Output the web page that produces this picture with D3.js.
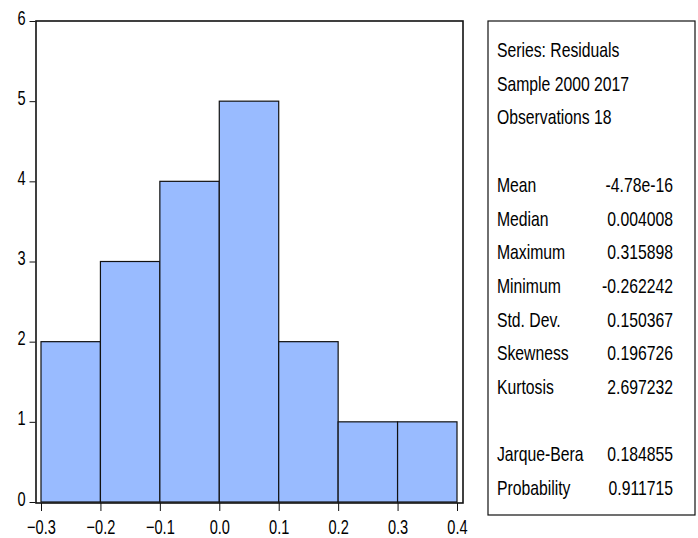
<!DOCTYPE html>
<html>
<head>
<meta charset="utf-8">
<script src="https://cdn.jsdelivr.net/npm/d3@7"></script>
<style>
  body { margin: 0; background: #fff; }
  text { font-family: "Liberation Sans", Arial, sans-serif; fill: #000; }
</style>
</head>
<body>
<svg id="chart" width="698" height="538"></svg>
<script>
// histogram bins (lower edge) and counts
var binStarts = [-0.3, -0.2, -0.1, 0.0, 0.1, 0.2, 0.3];
var binWidth = 0.1;
var counts = [2, 3, 4, 5, 2, 1, 1];
var xTicks = [-0.3, -0.2, -0.1, 0.0, 0.1, 0.2, 0.3, 0.4];
var yTicks = [0, 1, 2, 3, 4, 5, 6];

// stats box text
var headerLines = ["Series: Residuals", "Sample 2000 2017", "Observations 18"];
var statNames = ["Mean", "Median", "Maximum", "Minimum", "Std. Dev.", "Skewness", "Kurtosis"];
var statValues = ["-4.78e-16", "0.004008", "0.315898", "-0.262242", "0.150367", "0.196726", "2.697232"];
var testNames = ["Jarque-Bera", "Probability"];
var testValues = ["0.184855", "0.911715"];

var svg = d3.select("#chart");

// the original uses a condensed face, so squeeze text horizontally
var squeeze = 0.73;

var x = d3.scaleLinear().domain([-0.3, 0.4]).range([41, 457]);
var y = d3.scaleLinear().domain([0, 6]).range([502, 21]);

var frameL = 36, frameR = 463, frameT = 21, frameB = 503;

// bars
svg.selectAll("rect.bar")
    .data(counts)
    .enter()
    .append("rect")
    .attr("class", "bar")
    .attr("x", function(d, i) { return x(binStarts[i]); })
    .attr("width", function(d, i) { return x(binStarts[i] + binWidth) - x(binStarts[i]); })
    .attr("y", function(d) { return y(d); })
    .attr("height", function(d) { return y(0) - y(d); })
    .attr("fill", "#99bbff")
    .attr("stroke", "#111")
    .attr("stroke-width", 1.2);

// frame
svg.append("rect")
    .attr("x", frameL).attr("y", frameT)
    .attr("width", frameR - frameL).attr("height", frameB - frameT)
    .attr("fill", "none")
    .attr("stroke", "#111")
    .attr("stroke-width", 1.6);

// y axis
var yAxis = d3.axisLeft(y).tickValues(yTicks).tickSize(6).tickFormat(d3.format("d"));
var gy = svg.append("g").attr("transform", "translate(" + (frameL - 0.5) + ",0)").call(yAxis);
gy.select(".domain").remove();
gy.selectAll("line").attr("stroke", "#111");
gy.selectAll("text")
    .attr("x", 0)
    .attr("dy", "0.15em")
    .attr("transform", "translate(-10,0) scale(" + squeeze + ",1)")
    .style("font-size", "20px");

// x axis
var xAxis = d3.axisBottom(x).tickValues(xTicks).tickSize(8).tickPadding(9).tickFormat(d3.format(".1f"));
var gx = svg.append("g").attr("transform", "translate(0," + frameB + ")").call(xAxis);
gx.select(".domain").remove();
gx.selectAll("line").attr("stroke", "#111");
gx.selectAll("text")
    .attr("transform", "scale(" + squeeze + ",1)")
    .style("font-size", "20px");

// stats box
svg.append("rect")
    .attr("x", 488).attr("y", 21)
    .attr("width", 207).attr("height", 494)
    .attr("fill", "#fff")
    .attr("stroke", "#111")
    .attr("stroke-width", 1.2);

var lineH = 33.7, base0 = 57, textL = 497, valR = 673, sx = 0.75;

var rows = [];
headerLines.forEach(function(t, i) { rows.push({ name: t, value: "", line: i }); });
statNames.forEach(function(t, i) { rows.push({ name: t, value: statValues[i], line: 4 + i }); });
testNames.forEach(function(t, i) { rows.push({ name: t, value: testValues[i], line: 12 + i }); });

var row = svg.selectAll("g.row")
    .data(rows)
    .enter()
    .append("g")
    .attr("class", "row")
    .attr("transform", function(d) { return "translate(0," + (base0 + d.line * lineH) + ")"; });

row.append("text")
    .attr("transform", "translate(" + textL + ",0) scale(" + sx + ",1)")
    .style("font-size", "21px")
    .text(function(d) { return d.name; });

row.append("text")
    .attr("transform", "translate(" + valR + ",0) scale(" + sx + ",1)")
    .attr("text-anchor", "end")
    .style("font-size", "21px")
    .text(function(d) { return d.value; });
</script>
</body>
</html>
